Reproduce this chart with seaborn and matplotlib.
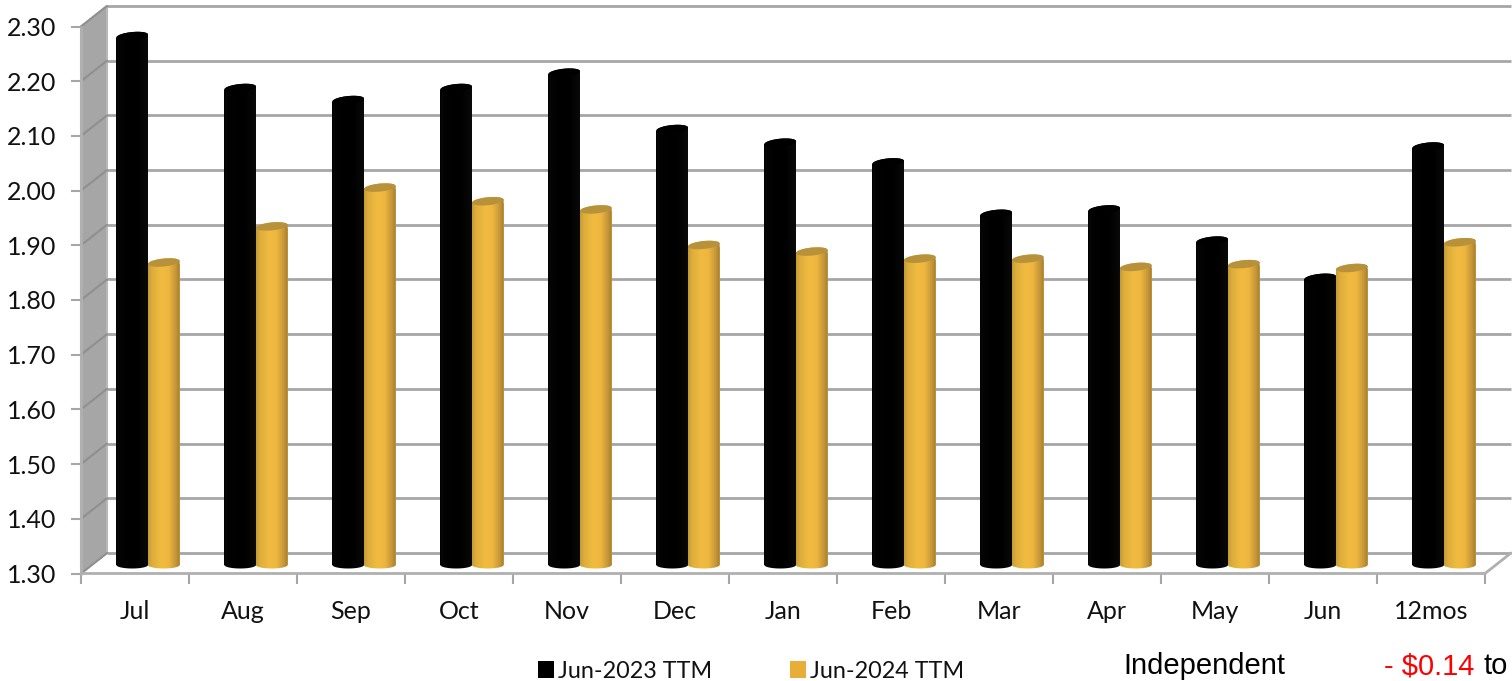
import numpy as np
import pandas as pd
import matplotlib
matplotlib.use("Agg")
import matplotlib.pyplot as plt
import seaborn as sns
from matplotlib.colors import LinearSegmentedColormap
from matplotlib.patches import Patch, PathPatch, Polygon
from matplotlib.path import Path

months = ["Jul", "Aug", "Sep", "Oct", "Nov", "Dec", "Jan", "Feb", "Mar", "Apr", "May", "Jun", "12mos"]
ttm_2023 = [2.267, 2.172, 2.150, 2.172, 2.200, 2.097, 2.072, 2.036, 1.942, 1.950, 1.893, 1.825, 2.065]
ttm_2024 = [1.853, 1.919, 1.990, 1.965, 1.950, 1.885, 1.873, 1.860, 1.860, 1.845, 1.850, 1.843, 1.890]
series_names = ["Jun-2023 TTM", "Jun-2024 TTM"]
y_ticks = [1.30, 1.40, 1.50, 1.60, 1.70, 1.80, 1.90, 2.00, 2.10, 2.20, 2.30]

W, H = 1512, 681
GRID = "#a6a6a6"
WALL = "#a6a6a6"
GOLD = "#e8ae38"

sns.set_theme(style="white")
plt.rcParams["font.family"] = ["Lato", "DejaVu Sans"]

fig = plt.figure(figsize=(W / 100, H / 100), dpi=100, facecolor="white")


def pixel_axes(left, right, top, bottom):
    return fig.add_axes([left / W, 1 - bottom / H, (right - left) / W, (bottom - top) / H])


# Front plane of the box: carries the ticks and their labels.
frame = pixel_axes(81, 1485, 26.5, 573.5)
frame.set_xlim(-0.5, 12.5)
frame.set_ylim(1.30, 2.30)
frame.patch.set_visible(False)
sns.despine(ax=frame, top=True, right=True, left=True, bottom=True)

# Depth of the box expressed in data units.
dx, dy = 26 / 108, 0.0375
x0, x1 = -0.5, 12.5
frame.add_patch(Polygon([(x0, 1.30), (x0 + dx, 1.30 + dy), (x0 + dx, 2.30 + dy), (x0, 2.30)],
                        closed=True, facecolor=WALL, edgecolor="#b8b8b8", lw=1.5, clip_on=False, zorder=1))
for v in y_ticks:
    frame.plot([x0 + dx, x1 + dx], [v + dy, v + dy], color=GRID, lw=2.0, clip_on=False, zorder=1,
               solid_capstyle="butt")
    frame.plot([x0, x0 + dx], [v, v + dy], color="#8f8f8f", lw=1.5, clip_on=False, zorder=2)
frame.plot([x0, x1, x1 + dx], [1.30, 1.30, 1.30 + dy], color="#b0b0b0", lw=2.0, clip_on=False, zorder=2)
frame.plot([x0, x0], [1.30, 2.30], color="#b0b0b0", lw=2.0, clip_on=False, zorder=2)

frame.set_yticks(y_ticks, [f"{v:.2f}" for v in y_ticks])
frame.set_xticks(range(len(months)), months)
frame.set_xticks(np.arange(-0.5, 13), minor=True)
frame.tick_params(axis="x", which="major", length=0, pad=18.8, labelsize=18, labelcolor="#111111")
frame.tick_params(axis="x", which="minor", length=7, width=1.5, color="#a6a6a6", bottom=True)
frame.tick_params(axis="y", length=7, width=1.5, color="#a6a6a6", left=True, pad=10.5, labelsize=18,
                  labelcolor="#111111")

# Bars stand midway through the depth, so their plane is shifted from the front.
px_per_unit = 547
bars = pixel_axes(81 + 13, 1485 + 13, 26.5 - 8.5, 573.5 - 8.5 + 10)
bars.patch.set_visible(False)

table = pd.DataFrame({
    "month": months * 2,
    "value": ttm_2023 + ttm_2024,
    "series": [series_names[0]] * len(months) + [series_names[1]] * len(months),
})
sns.barplot(data=table, x="month", y="value", hue="series", order=months, hue_order=series_names,
            palette=["#000000", GOLD], width=0.585, gap=0, dodge=True, legend=False, ax=bars,
            linewidth=0, saturation=1)
bars.set_xlim(-0.5, 12.5)
bars.set_ylim(1.30 - 10 / px_per_unit, 2.30)
bars.axis("off")

black_map = LinearSegmentedColormap.from_list("b", ["#060606", "#000000", "#000000", "#0a0a0a"])
gold_map = LinearSegmentedColormap.from_list(
    "g", [(0, "#c39a36"), (0.12, "#dcae3c"), (0.42, "#f2bb40"), (0.65, "#eeb63e"), (0.88, "#c3963a"), (1, "#a37d2f")])
gradient = np.linspace(0, 1, 128).reshape(1, -1)

base = 1.30
bottom_b = 3.5 / px_per_unit
top_b = 4.0 / px_per_unit
tilt = 1.5 / px_per_unit

for patch in list(bars.patches):
    left, w, top = patch.get_x(), patch.get_width(), patch.get_height()
    if w <= 0 or np.isnan(top):
        continue
    cx, a = left + w / 2, w / 2
    is_gold = matplotlib.colors.to_hex(patch.get_facecolor()) == GOLD
    patch.set_y(base)
    patch.set_height(top - tilt - base)
    patch.set_zorder(3 if not is_gold else 5)

    t_low = np.linspace(np.pi, 2 * np.pi, 40)
    t_up = np.linspace(0, np.pi, 40)
    lower = np.column_stack([cx + a * np.cos(t_low), base + bottom_b * np.sin(t_low)])
    upper = np.column_stack([cx + a * np.cos(t_up), top + top_b * np.sin(t_up) + tilt * np.cos(t_up)])
    body = np.vstack([lower, upper, lower[:1]])
    image = bars.imshow(gradient, aspect="auto", cmap=gold_map if is_gold else black_map,
                        extent=[left, left + w, base - 2 * bottom_b, top + 3 * top_b],
                        zorder=patch.get_zorder() + 0.1, interpolation="bilinear")
    image.set_clip_path(PathPatch(Path(body), transform=bars.transData))

    # Flat lid of the cylinder.
    t_all = np.linspace(0, 2 * np.pi, 80)
    lid = np.column_stack([cx + a * np.cos(t_all), top + top_b * np.sin(t_all) + tilt * np.cos(t_all)])
    bars.add_patch(Polygon(lid, closed=True, facecolor="#b8923a" if is_gold else "#000000",
                           edgecolor="none", zorder=patch.get_zorder() + 0.2))

bars.set_xlim(-0.5, 12.5)
bars.set_ylim(1.30 - 10 / px_per_unit, 2.30)

# Legend along the bottom edge.
handles = [Patch(facecolor="#000000", edgecolor="none", label=series_names[0]),
           Patch(facecolor=GOLD, edgecolor="none", label=series_names[1])]
fig.legend(handles=handles, ncol=2, frameon=False, loc="center left",
           bbox_to_anchor=(526 / W, 1 - 671 / H), fontsize=16.8, handlelength=0.72, handleheight=0.72,
           handletextpad=0.15, columnspacing=3.32, borderpad=0, labelcolor="#111111")

# Note text in the lower right corner.
fig.text(1123 / W, 1 - 666.5 / H, "Independent", family="Liberation Sans", fontsize=21, color="black", va="center")
fig.text(1384 / W, 1 - 666.5 / H, r"- \$0.14", family="Liberation Sans", fontsize=21, color="#ff0000", va="center")
fig.text(1483 / W, 1 - 666.5 / H, "to", family="Liberation Sans", fontsize=21, color="black", va="center")

fig.savefig("out.png", dpi=100, facecolor="white")
